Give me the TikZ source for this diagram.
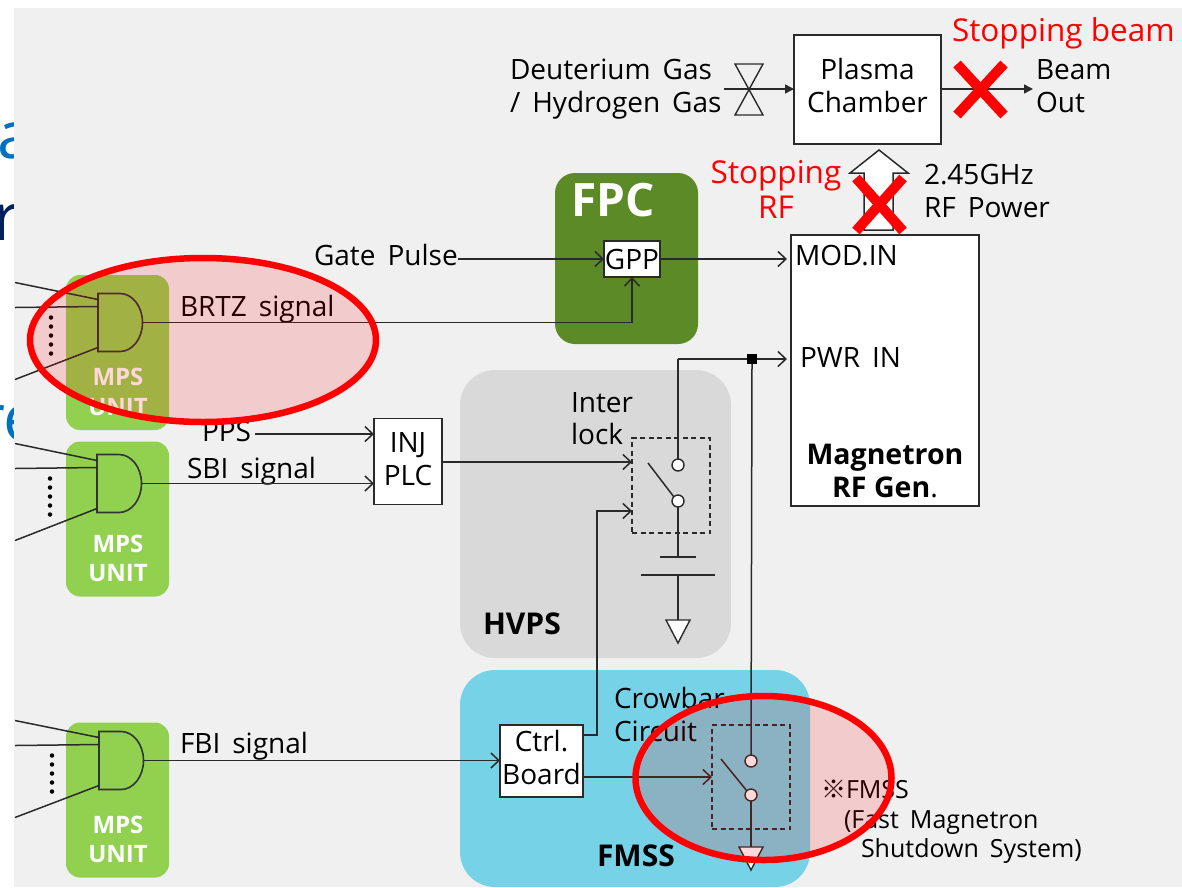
\documentclass[tikz,border=0pt]{standalone}
\usepackage{fontspec}
\setmainfont{Open Sans}
\newfontfamily\cjkfont{Noto Sans CJK JP}
\usetikzlibrary{arrows.meta,calc}
\definecolor{bgGray}{HTML}{F0F0F0}
\definecolor{ink}{HTML}{2A2A2A}
\definecolor{mpsGreen}{HTML}{92D050}
\definecolor{fpcGreen}{HTML}{5B8A27}
\definecolor{hvGray}{HTML}{D9D9D9}
\definecolor{fmCyan}{HTML}{76D2E6}
\definecolor{pageBlue}{HTML}{0070C0}
\definecolor{pageNavy}{HTML}{002060}
\newcommand{\bodyfont}{\fontsize{28}{33}\selectfont\setlength{\spaceskip}{12pt}}
\newcommand{\notefont}{\fontsize{25}{30}\selectfont\setlength{\spaceskip}{11pt}}
\newcommand{\twolines}[3]{\raisebox{#1}[0pt][0pt]{\begin{tabular}[b]{@{}c@{}}#2\\#3\end{tabular}}}
\tikzset{
  lbl/.style={inner sep=0pt,outer sep=0pt,text=black,font=\bodyfont},
  bold/.style={lbl,font=\fontsize{30}{34}\selectfont\bfseries},
  boldmag/.style={lbl,font=\fontsize{28.5}{33}\selectfont\bfseries},
  redlbl/.style={lbl,text=red,font=\fontsize{31.5}{36}\selectfont},
  notelbl/.style={lbl,font=\notefont},
  mpslbl/.style={inner sep=0pt,text=white,font=\fontsize{24}{29}\selectfont\bfseries,anchor=base},
  panel/.style={inner sep=0pt,outer sep=0pt,draw=none},
  unitpanel/.style={panel,fill=mpsGreen,rounded corners=14pt,minimum width=103pt,minimum height=155pt},
  whitebox/.style={draw=ink,line width=1.6pt,fill=white,inner sep=0pt,outer sep=0pt,text=black,font=\bodyfont},
  wire/.style={draw=ink,line width=1.5pt},
  sig/.style={wire,-{Straight Barb[length=8pt,width=15pt,line width=1.5pt]}},
  fsig/.style={wire,-{Triangle[length=9pt,width=9pt]}},
  dbox/.style={draw=ink,line width=1.4pt,dash pattern=on 5pt off 3.5pt,inner sep=0pt,outer sep=0pt},
  contact/.style={circle,draw=ink,line width=1.4pt,fill=white,minimum size=12pt,inner sep=0pt,outer sep=0pt},
  tri/.style={draw=ink,line width=1.4pt,fill=white,line join=miter},
  crossline/.style={draw=red,line width=10pt},
  flag/.style={draw=red,line width=6.5pt,fill=red,fill opacity=.15},
  dotty/.style={circle,fill=black,minimum size=4.5pt,inner sep=0pt},
  pageletter/.style={inner sep=0pt,font=\fontsize{66}{70}\selectfont}
}
\newcommand{\andgate}[3]{%
  \draw[draw=black!80,line width=1.6pt] (#2,#3-29) -- (#2+22,#3-29) arc[start angle=90,end angle=-90,x radius=22.5pt,y radius=29pt] -- (#2,#3+29) -- cycle;
  \coordinate (#1o) at (#2+44.5,#3);
  \coordinate (#1a) at (#2,#3-23);
  \coordinate (#1b) at (#2,#3-16);
  \coordinate (#1c) at (#2,#3+25);
  \coordinate (#1fa) at (15,#3-40);
  \coordinate (#1fb) at (15,#3-15);
  \coordinate (#1fc) at (15,#3+57);
  \draw[wire] (#1fa) -- (#1a);
  \draw[wire] (#1fb) -- (#1b);
  \draw[wire] (#1fc) -- (#1c);
  \foreach \k in {0,1,2,3,4} \node[dotty] (#1d\k) at (#2-47,#3-5+9*\k) {};
}
\newcommand{\swset}[4]{% name, x of contacts, y upper, y lower
  \node[contact] (#1u) at (#2,#3) {};
  \node[contact] (#1l) at (#2,#4) {};
  \coordinate (#1p) at (#2-30,#3-2);
  \coordinate (#1q) at (#1l.north west);
  \draw[wire] (#1p) -- (#1q);
}
\begin{document}
\begin{tikzpicture}[x=1pt,y=-1pt]
\useasboundingbox (0,0) rectangle (1182,887);
\fill[white] (0,0) rectangle (1182,887);
% clipped letters of the page behind
\node[pageletter,anchor=base west,text=pageBlue] (la) at (-3,158) {a};
\node[pageletter,anchor=base west,text=pageNavy] (lr) at (-7,240) {r};
\node[pageletter,anchor=base west,text=pageBlue] (le) at (-22,441) {re};
\fill[bgGray] (14,8) rectangle (1182,887);
% panels
\node[unitpanel] (mps1) at (117.5,352.5) {};
\node[unitpanel] (mps2) at (117.5,519) {};
\node[unitpanel] (mps3) at (117.5,800) {};
\node[panel,fill=fpcGreen,rounded corners=20pt,minimum width=143pt,minimum height=171pt] (fpc) at (626.5,258.5) {};
\node[panel,fill=hvGray,rounded corners=35pt,minimum width=271pt,minimum height=288pt] (hvps) at (595.5,514) {};
\node[panel,fill=fmCyan,rounded corners=35pt,minimum width=350pt,minimum height=217pt] (fmss) at (635,778.5) {};
% boxes
\node[whitebox,minimum width=147pt,minimum height=109pt] (plasma) at (867.5,89.5) {\twolines{-22.5pt}{Plasma}{Chamber}};
\node[whitebox,minimum width=188pt,minimum height=271pt] (mag) at (885,370.5) {};
\node[whitebox,minimum width=56pt,minimum height=36pt] (gpp) at (632,259) {GPP};
\node[whitebox,minimum width=68pt,minimum height=86pt] (inj) at (408,461.5) {\twolines{-23.5pt}{INJ}{PLC}};
\node[whitebox,minimum width=83pt,minimum height=72pt] (ctrl) at (541.5,761) {\twolines{-23pt}{Ctrl.}{Board}};
% labels
\node[lbl,anchor=base west] (deut) at (510,79) {Deuterium Gas};
\node[lbl,anchor=base west] (hyd) at (510,112) {/ Hydrogen Gas};
\node[lbl,anchor=base west] (beam) at (1036,79) {Beam};
\node[lbl,anchor=base west] (outl) at (1036,112) {Out};
\node[redlbl,anchor=base west] (stopb) at (952,41) {Stopping beam};
\node[redlbl,anchor=base] (stoprf) at (776,183) {Stopping};
\node[redlbl,anchor=base] (stoprf2) at (776,218) {RF};
\node[lbl,anchor=base west] (ghz) at (924,184) {2.45GHz};
\node[lbl,anchor=base west] (rfp) at (924,217) {RF Power};
\node[inner sep=0pt,text=white,anchor=base west,font=\fontsize{46}{50}\selectfont\bfseries] (fpct) at (571,216) {FPC};
\node[lbl,anchor=base west] (gate) at (314,265) {Gate Pulse};
\node[lbl,anchor=base west] (brtz) at (180,316) {BRTZ signal};
\node[lbl,anchor=base west] (modin) at (795,265) {MOD.IN};
\node[lbl,anchor=base west] (pwrin) at (800,367) {PWR IN};
\node[boldmag,anchor=base] (magt) at (885,464) {Magnetron};
\node[boldmag,anchor=base] (rfgen) at (885,497) {RF Gen{\mdseries.}};
\node[lbl,anchor=base west] (pps) at (202,441) {PPS};
\node[lbl,anchor=base west] (sbi) at (187,478) {SBI signal};
\node[lbl,anchor=base west] (fbi) at (180,753) {FBI signal};
\node[lbl,anchor=base west] (inter) at (571,412) {Inter};
\node[lbl,anchor=base west] (lock) at (571,444) {lock};
\node[bold,anchor=base west] (hvpst) at (483,634) {HVPS};
\node[lbl,anchor=base west] (crow) at (614,708) {Crowbar};
\node[lbl,anchor=base west] (circ) at (614,741) {Circuit};
\node[bold,anchor=base west] (fmsst) at (597,866) {FMSS};
\node[notelbl,anchor=base west] (note1) at (821,798) {{\cjkfont ※}FMSS};
\node[notelbl,anchor=base west] (note2) at (844,828) {(Fast Magnetron};
\node[notelbl,anchor=base west] (note3) at (861,857) {Shutdown System)};
\node[mpslbl] (m1a) at (118,385) {MPS};
\node[mpslbl] (m1b) at (118,415) {UNIT};
\node[mpslbl] (m2a) at (118,552) {MPS};
\node[mpslbl] (m2b) at (118,581) {UNIT};
\node[mpslbl] (m3a) at (118,833) {MPS};
\node[mpslbl] (m3b) at (118,862) {UNIT};
% gates
\andgate{ga}{98}{322.5}
\andgate{gb}{97}{483.5}
\andgate{gc}{99}{760.5}
% top row
\coordinate (vl) at (724,89);
\coordinate (vc) at (749,89);
\draw[tri,fill=none] (735,64) -- (763,64) -- (735,115) -- (763,115) -- cycle;
\draw[fsig] (vl) -- (plasma.west |- vl);
\coordinate (bo) at (1033,89);
\draw[fsig] (plasma.east |- bo) -- (bo);
% block arrow
\coordinate (btip) at (879,150);
\draw[draw=ink,line width=1.5pt,fill=white,line join=miter] (btip) -- (908,173) -- (893,173) -- (893,230) -- (864,230) -- (864,173) -- (850,173) -- cycle;
% signal wires
\coordinate (gpin) at (458,259);
\draw[sig] (gpin) -- (gpp.west |- gpin);
\coordinate (modp) at (787,259);
\draw[sig] (gpp.east |- modp) -- (modp);
\draw[sig] (gao) -| (gpp.south);
\coordinate (ppsa) at (255,434);
\draw[sig] (ppsa) -- (inj.west |- ppsa);
\draw[sig] (gbo) -- (inj.west |- gbo);
% interlock
\node[dbox,minimum width=78pt,minimum height=95pt] (ilk) at (671,485.5) {};
\swset{s}{678}{465}{501}
\coordinate (pwrj) at (752,359);
\coordinate (pwrp) at (787,359);
\draw[wire] (su.north) -- (su.north |- pwrj);
\draw[sig] (su.north |- pwrj) -- (pwrp);
\coordinate (injo) at ($(inj.east)+(0,0.5)$);
\draw[sig] (injo) -- (ilk.west |- injo);
\coordinate (p1) at (678,557);
\coordinate (p2) at (678,575);
\coordinate (gnd1) at (678,620);
\draw[wire] (sl.south) -- (p1);
\draw[draw=ink,line width=2pt] (660,557) -- (696,557);
\draw[draw=ink,line width=2pt] (641,575) -- (715,575);
\draw[wire] (p2) -- (gnd1);
\draw[tri] (666,620) -- (690,620) -- (678,643) -- cycle;
% crowbar
\node[dbox,minimum width=78pt,minimum height=104pt] (cbx) at (751,777) {};
\swset{c}{751}{761}{795}
\node[fill=black,minimum size=10pt,inner sep=0pt] (jct) at (pwrj) {};
\draw[wire] (jct.south) -- (cu.north);
\coordinate (gnd2) at (751,847);
\draw[wire] (cl.south) -- (gnd2);
\draw[tri] (739,847) -- (763,847) -- (751,870) -- cycle;
\coordinate (ctrlo) at (583,777);
\draw[sig] (ctrlo) -- (cbx.west |- ctrlo);
\coordinate (ctrlu) at (583,735);
\draw[sig] (ctrlu) -- (597,735) -- (597,511) -- (ilk.west |- 0,511);
\draw[sig] (gco) -- (ctrl.west |- gco);
% crosses
\draw[crossline] (957,64) -- (1004,115);
\draw[crossline] (1004,64) -- (957,115);
\draw[crossline] (856,178) -- (903,231);
\draw[crossline] (903,178) -- (856,231);
% attention ellipses
\path[flag] (203,340) ellipse[x radius=173pt,y radius=82pt];
\path[flag] (763.5,778) ellipse[x radius=128pt,y radius=82pt];
\end{tikzpicture}
\end{document}
